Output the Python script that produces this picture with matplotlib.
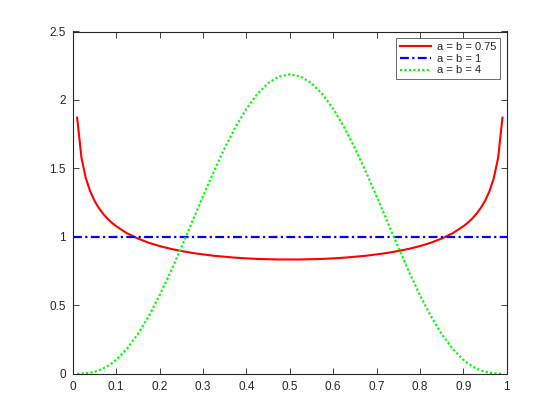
import matplotlib
matplotlib.use("Agg")
import matplotlib.pyplot as plt

x = [0.01, 0.02, 0.03, 0.04, 0.05, 0.06, 0.07, 0.08, 0.09, 0.10,
     0.125, 0.15, 0.175, 0.2, 0.225, 0.25, 0.275, 0.3, 0.325, 0.35,
     0.375, 0.4, 0.425, 0.45, 0.475, 0.5, 0.525, 0.55, 0.575, 0.6,
     0.625, 0.65, 0.675, 0.7, 0.725, 0.75, 0.775, 0.8, 0.825, 0.85,
     0.875, 0.9, 0.91, 0.92, 0.93, 0.94, 0.95, 0.96, 0.97, 0.98, 0.99]

y_075 = [1.871, 1.577, 1.429, 1.333, 1.264, 1.211, 1.168, 1.133, 1.103, 1.078,
         1.026, 0.988, 0.957, 0.933, 0.913, 0.897, 0.883, 0.872, 0.862, 0.855,
         0.848, 0.843, 0.839, 0.837, 0.835, 0.835, 0.835, 0.837, 0.839, 0.843,
         0.848, 0.855, 0.862, 0.872, 0.883, 0.897, 0.913, 0.933, 0.957, 0.988,
         1.026, 1.078, 1.103, 1.133, 1.168, 1.211, 1.264, 1.333, 1.429, 1.577, 1.871]

y_4 = [0.0001, 0.0011, 0.0035, 0.0079, 0.0150, 0.0251, 0.0386, 0.0558, 0.0769, 0.1021,
       0.1832, 0.2902, 0.4213, 0.5734, 0.7423, 0.9229, 1.1095, 1.2965, 1.4780, 1.6484,
       1.8024, 1.9354, 2.0431, 2.1225, 2.1711, 2.1875, 2.1711, 2.1225, 2.0431, 1.9354,
       1.8024, 1.6484, 1.4780, 1.2965, 1.1095, 0.9229, 0.7423, 0.5734, 0.4213, 0.2902,
       0.1832, 0.1021, 0.0769, 0.0558, 0.0386, 0.0251, 0.0150, 0.0079, 0.0035, 0.0011, 0.0001]

x_1 = [0.0, 1.0]
y_1 = [1.0, 1.0]

labels = ["a = b = 0.75", "a = b = 1", "a = b = 4"]
xticks = [0, 0.1, 0.2, 0.3, 0.4, 0.5, 0.6, 0.7, 0.8, 0.9, 1]
xticklabels = ["0", "0.1", "0.2", "0.3", "0.4", "0.5", "0.6", "0.7", "0.8", "0.9", "1"]
yticks = [0, 0.5, 1, 1.5, 2, 2.5]
yticklabels = ["0", "0.5", "1", "1.5", "2", "2.5"]

plt.rcParams['font.family'] = ['Liberation Sans', 'DejaVu Sans']
fig = plt.figure(figsize=(5.6, 4.2), dpi=100)
ax = fig.add_axes([0.13, 0.11, 0.775, 0.815])

ax.plot(x, y_075, color=(1, 0, 0), lw=1.5, ls='-', label=labels[0])
ax.plot(x_1, y_1, color=(0, 0, 1), lw=1.6, ls=(0, (4, 1.5, 1, 1.5)), label=labels[1])
ax.plot(x, y_4, color=(0, 1, 0), lw=1.6, ls=(0, (1, 1)), label=labels[2])

ax.set_xlim(0, 1)
ax.set_ylim(0, 2.5)
ax.set_xticks(xticks)
ax.set_xticklabels(xticklabels)
ax.set_yticks(yticks)
ax.set_yticklabels(yticklabels)
ax.tick_params(direction='in', length=4, width=0.6, colors=(0.15, 0.15, 0.15),
               labelsize=8.5, top=True, right=True, pad=5)
for s in ax.spines.values():
    s.set_linewidth(0.8)
    s.set_color((0.15, 0.15, 0.15))

leg = ax.legend(loc='upper right', fontsize=8, frameon=True, fancybox=False,
                edgecolor=(0.15, 0.15, 0.15), handlelength=2.8, borderaxespad=0.6,
                labelspacing=0.15, handletextpad=0.5, borderpad=0.35)
leg.get_frame().set_linewidth(0.6)
for t in leg.get_texts():
    t.set_color((0.15, 0.15, 0.15))

fig.savefig("out.png", dpi=100)
